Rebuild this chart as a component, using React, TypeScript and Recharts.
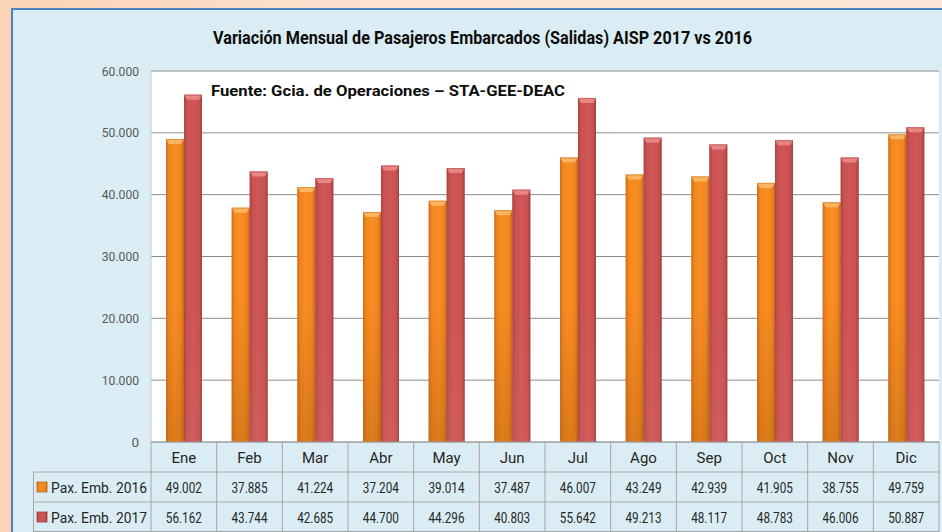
import React from 'react';
import { BarChart, Bar, XAxis, YAxis, CartesianGrid } from 'recharts';

const months = ['Ene', 'Feb', 'Mar', 'Abr', 'May', 'Jun', 'Jul', 'Ago', 'Sep', 'Oct', 'Nov', 'Dic'];
const pax2016 = [49002, 37885, 41224, 37204, 39014, 37487, 46007, 43249, 42939, 41905, 38755, 49759];
const pax2017 = [56162, 43744, 42685, 44700, 44296, 40803, 55642, 49213, 48117, 48783, 46006, 50887];
const seriesNames = ['Pax. Emb. 2016', 'Pax. Emb. 2017'];
const yTicks = [0, 10000, 20000, 30000, 40000, 50000, 60000];
const titleText = 'Variación Mensual de Pasajeros Embarcados (Salidas) AISP 2017 vs 2016';
const sourceText = 'Fuente: Gcia. de Operaciones – STA-GEE-DEAC';

const data = months.map((m, i) => ({ month: m, a: pax2016[i], b: pax2017[i] }));

const W = 942;
const H = 532;
const PLOT_LEFT = 151;
const PLOT_RIGHT = 3;
const PLOT_TOP = 71;
const AXIS_H = 90;
const BAND = (W - PLOT_LEFT - PLOT_RIGHT) / months.length;
const ROW_H = 30;
const LEG_LEFT = 33;
const FONT = "'Liberation Sans Narrow', Roboto, sans-serif";
const GRID = '#a6a6a6';
const TXT = '#262626';

const fmt = (v: number) => String(v).replace(/\B(?=(\d{3})+(?!\d))/g, '.');

const makeShape = (kind: 'o' | 'r') => (props: any) => {
  const { x, y, width, height } = props;
  if (!height || height <= 0) return null;
  const bevel = Math.min(5, height);
  const capFill = kind === 'o' ? '#fbb461' : '#e88583';
  return (
    <g>
      <rect x={x} y={y} width={width} height={height} fill={`url(#h_${kind})`} />
      <rect x={x} y={y} width={width} height={height} fill={`url(#v_${kind})`} />
      <polygon
        points={`${x},${y} ${x + width},${y} ${x + width - 3},${y + bevel} ${x + 3},${y + bevel}`}
        fill={capFill}
      />
      <rect x={x + 0.5} y={y + 0.5} width={width - 1} height={height - 1} fill="none" stroke={kind === 'o' ? '#c8701f' : '#a84442'} strokeOpacity={0.5} />
    </g>
  );
};

const YTick = (props: any) => {
  const { x, y, payload } = props;
  const s = fmt(payload.value);
  return (
    <text
      x={x}
      y={y}
      dy={4.5}
      textAnchor="end"
      fontFamily={FONT}
      fontSize={13.5}
      fill="#595959"
      {...(s.length > 1 ? { textLength: s.length * 6.2, lengthAdjust: 'spacingAndGlyphs' } : {})}
    >
      {s}
    </text>
  );
};

const LegendIcon = ({ x, y, kind }: { x: number; y: number; kind: 'o' | 'r' }) => (
  <rect x={x} y={y} width={10} height={10} fill={`url(#h_${kind})`} stroke={kind === 'o' ? '#b8651c' : '#9c3c3a'} strokeWidth={0.8} />
);

const XTick = (props: any) => {
  const { x, y, index } = props;
  const top = y;
  const left = x - BAND / 2;
  const right = x + BAND / 2;
  const rows = [pax2016[index], pax2017[index]];
  return (
    <g>
      {index === 0 && (
        <g>
          <line x1={LEG_LEFT} y1={top + ROW_H} x2={PLOT_LEFT} y2={top + ROW_H} stroke={GRID} />
          <line x1={LEG_LEFT} y1={top + 2 * ROW_H} x2={PLOT_LEFT} y2={top + 2 * ROW_H} stroke={GRID} />
          <line x1={LEG_LEFT} y1={top + 3 * ROW_H - 0.5} x2={PLOT_LEFT} y2={top + 3 * ROW_H - 0.5} stroke={GRID} />
          <line x1={LEG_LEFT + 0.5} y1={top + ROW_H} x2={LEG_LEFT + 0.5} y2={top + 3 * ROW_H} stroke={GRID} />
          {seriesNames.map((n, k) => (
            <g key={n}>
              <LegendIcon x={LEG_LEFT + 4} y={top + ROW_H * (k + 1) + 10} kind={k === 0 ? 'o' : 'r'} />
              <text
                x={LEG_LEFT + 18}
                y={top + ROW_H * (k + 1) + 15}
                dy={5.5}
                fontFamily={FONT}
                fontSize={15}
                fill={TXT}
                textLength={96}
                lengthAdjust="spacingAndGlyphs"
              >
                {n}
              </text>
            </g>
          ))}
        </g>
      )}
      <line x1={left} y1={top} x2={left} y2={top + 3 * ROW_H} stroke={GRID} />
      {index === months.length - 1 && <line x1={right} y1={top} x2={right} y2={top + 3 * ROW_H} stroke={GRID} />}
      <line x1={left} y1={top + ROW_H} x2={right} y2={top + ROW_H} stroke={GRID} />
      <line x1={left} y1={top + 2 * ROW_H} x2={right} y2={top + 2 * ROW_H} stroke={GRID} />
      <line x1={left} y1={top + 3 * ROW_H - 0.5} x2={right} y2={top + 3 * ROW_H - 0.5} stroke={GRID} />
      <text x={x} y={top + ROW_H / 2} dy={5.5} textAnchor="middle" fontFamily={FONT} fontSize={15} fill={TXT}>
        {months[index]}
      </text>
      {rows.map((v, k) => (
        <text
          key={k}
          x={x}
          y={top + ROW_H * (k + 1) + 15}
          dy={5.5}
          textAnchor="middle"
          fontFamily={FONT}
          fontSize={15}
          fill={TXT}
          textLength={36}
          lengthAdjust="spacingAndGlyphs"
        >
          {fmt(v)}
        </text>
      ))}
    </g>
  );
};

export default function App() {
  return (
    <div
      style={{
        position: 'relative',
        width: W,
        height: H,
        overflow: 'hidden',
        background: 'linear-gradient(to right, #fbd3b5 0%, #fde2d1 40%, #fde4d6 100%)',
      }}
    >
      <style>{`body{margin:0}`}</style>
      <div
        style={{
          position: 'absolute',
          left: 11,
          top: 8,
          width: W,
          height: H,
          background: '#dbedf4',
          borderLeft: '2px solid #4f81bd',
          borderTop: '2px solid #4f81bd',
        }}
      />
      <div style={{ position: 'absolute', left: 0, top: 0 }}>
        <BarChart
          width={W}
          height={H}
          data={data}
          margin={{ top: PLOT_TOP, right: PLOT_RIGHT, bottom: 0, left: 0 }}
          barSize={18}
          barGap={0}
        >
          <defs>
            <linearGradient id="h_o" x1="0" y1="0" x2="1" y2="0">
              <stop offset="0%" stopColor="#d47117" />
              <stop offset="18%" stopColor="#f28620" />
              <stop offset="50%" stopColor="#f98e22" />
              <stop offset="82%" stopColor="#f28620" />
              <stop offset="100%" stopColor="#c86a18" />
            </linearGradient>
            <linearGradient id="h_r" x1="0" y1="0" x2="1" y2="0">
              <stop offset="0%" stopColor="#b04644" />
              <stop offset="18%" stopColor="#c9524f" />
              <stop offset="50%" stopColor="#d05657" />
              <stop offset="82%" stopColor="#c9524f" />
              <stop offset="100%" stopColor="#a84240" />
            </linearGradient>
            <linearGradient id="v_o" gradientUnits="userSpaceOnUse" x1="0" y1="300" x2="0" y2="442">
              <stop offset="0%" stopColor="#7a3a00" stopOpacity={0} />
              <stop offset="100%" stopColor="#7a3a00" stopOpacity={0.22} />
            </linearGradient>
            <linearGradient id="v_r" gradientUnits="userSpaceOnUse" x1="0" y1="300" x2="0" y2="442">
              <stop offset="0%" stopColor="#ffffff" stopOpacity={0} />
              <stop offset="100%" stopColor="#ffffff" stopOpacity={0.04} />
            </linearGradient>
          </defs>
          <CartesianGrid vertical={false} horizontal stroke="#8c8c8c" fill="#ffffff" />
          <XAxis
            dataKey="month"
            height={AXIS_H}
            interval={0}
            tickSize={0}
            tickMargin={0}
            axisLine={{ stroke: GRID }}
            tickLine={false}
            tick={<XTick />}
          />
          <YAxis
            width={PLOT_LEFT}
            domain={[0, 60000]}
            ticks={yTicks}
            tickSize={0}
            tickMargin={12}
            axisLine={{ stroke: '#c8c8c8' }}
            tickLine={false}
            tick={<YTick />}
            interval={0}
          />
          <Bar dataKey="a" name={seriesNames[0]} isAnimationActive={false} shape={makeShape('o')} />
          <Bar dataKey="b" name={seriesNames[1]} isAnimationActive={false} shape={makeShape('r')} />
        </BarChart>
      </div>
      <svg width={W} height={H} style={{ position: 'absolute', left: 0, top: 0, pointerEvents: 'none' }}>
        <text
          x={213}
          y={44}
          fontFamily={FONT}
          fontWeight="bold"
          fontSize={18.5}
          fill="#0d0d0d"
          textLength={539}
          lengthAdjust="spacingAndGlyphs"
        >
          {titleText}
        </text>
        <text
          x={211}
          y={96}
          fontFamily={FONT}
          fontWeight="bold"
          fontSize={15.5}
          fill="#0d0d0d"
          textLength={354}
          lengthAdjust="spacingAndGlyphs"
        >
          {sourceText}
        </text>
      </svg>
    </div>
  );
}
